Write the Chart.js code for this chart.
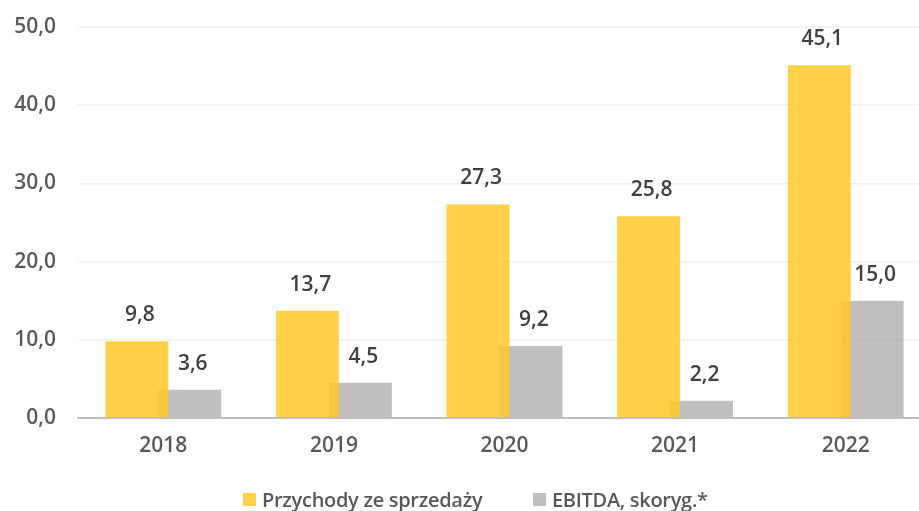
<!DOCTYPE html>
<html lang="pl">
<head>
    <meta charset="UTF-8">
    <title>chart</title>
    <style>
        html, body { margin: 0; padding: 0; background: #fff; overflow: hidden; }
        #wrap { position: relative; width: 931px; height: 511px; }
        .legend { position: absolute; left: 0; top: 486px; width: 931px; height: 26px;
                  font-family: 'Open Sans', sans-serif; font-weight: 600; font-size: 20px; color: #595959;
                  letter-spacing: -0.3px; white-space: nowrap; }
        .legend-item { position: absolute; top: 0; display: flex; align-items: center; }
        .legend-color { display: inline-block; width: 13px; height: 13px; margin-right: 6px; }
    </style>
</head>
<body>
<div id="wrap">
    <canvas id="barChart" width="931" height="511"></canvas>
    <div id="legendContainer" class="legend"></div>
</div>

<script src="https://cdn.jsdelivr.net/npm/chart.js"></script>
<script>
    var years = ['2018', '2019', '2020', '2021', '2022'];
    var revenue = [9.8, 13.7, 27.3, 25.8, 45.1];
    var ebitda = [3.6, 4.5, 9.2, 2.2, 15.0];
    var seriesNames = ['Przychody ze sprzedaży', 'EBITDA, skoryg.*'];
    var seriesColors = ['rgba(255,200,40,0.85)', 'rgba(162,162,162,0.69)'];
    var legendLeft = [243, 533];

    var FONT = "'Open Sans', sans-serif";

    function fmt(v) {
        return v.toFixed(1).replace('.', ',');
    }

    // labels over the bars
    var valueLabels = {
        id: 'valueLabels',
        afterDatasetsDraw: function(chart) {
            var ctx = chart.ctx;
            ctx.save();
            ctx.font = '600 21px ' + FONT;
            ctx.fillStyle = '#404040';
            ctx.textAlign = 'center';
            ctx.textBaseline = 'middle';
            chart.data.datasets.forEach(function(ds, i) {
                var meta = chart.getDatasetMeta(i);
                meta.data.forEach(function(bar, j) {
                    ctx.fillText(fmt(ds.data[j]), bar.x + 3, bar.y - 26);
                });
            });
            ctx.restore();
        }
    };

    var ctx = document.getElementById('barChart');
    var barChart = new Chart(ctx.getContext('2d'), {
        type: 'bar',
        data: {
            labels: years,
            datasets: [
                { label: seriesNames[0], backgroundColor: seriesColors[0], data: revenue },
                { label: seriesNames[1], backgroundColor: seriesColors[1], data: ebitda }
            ]
        },
        options: {
            responsive: false,
            animation: false,
            categoryPercentage: 0.62,
            barPercentage: 1.19,
            layout: {
                padding: { top: 27, right: 0, left: 0, bottom: 0 }
            },
            scales: {
                y: {
                    min: 0,
                    max: 50,
                    ticks: {
                        stepSize: 10,
                        padding: 22,
                        color: '#595959',
                        font: { size: 21, weight: 600, family: FONT },
                        callback: function(value) { return fmt(value); }
                    },
                    grid: { color: '#F0F0F0', lineWidth: 1.5, drawTicks: false },
                    border: { display: false },
                    afterFit: function(scale) {
                        scale.width = 78;
                        scale.paddingTop = 0;
                        scale.paddingBottom = 0;
                    }
                },
                x: {
                    ticks: {
                        padding: 15,
                        color: '#595959',
                        font: { size: 21, weight: 600, family: FONT }
                    },
                    grid: { display: false, drawTicks: false },
                    border: { color: '#BFBFBF', width: 2 },
                    afterFit: function(scale) { scale.height = 93; }
                }
            },
            plugins: {
                legend: { display: false },
                tooltip: { enabled: false }
            }
        },
        plugins: [valueLabels]
    });

    // html legend
    var legendHTML = '';
    for (var i = 0; i < seriesNames.length; i++) {
        legendHTML += '<span class="legend-item" style="left:' + legendLeft[i] + 'px">' +
            '<span class="legend-color" style="background-color:' + seriesColors[i] + '"></span>' +
            seriesNames[i] + '</span>';
    }
    document.getElementById('legendContainer').innerHTML = legendHTML;
</script>
</body>
</html>
